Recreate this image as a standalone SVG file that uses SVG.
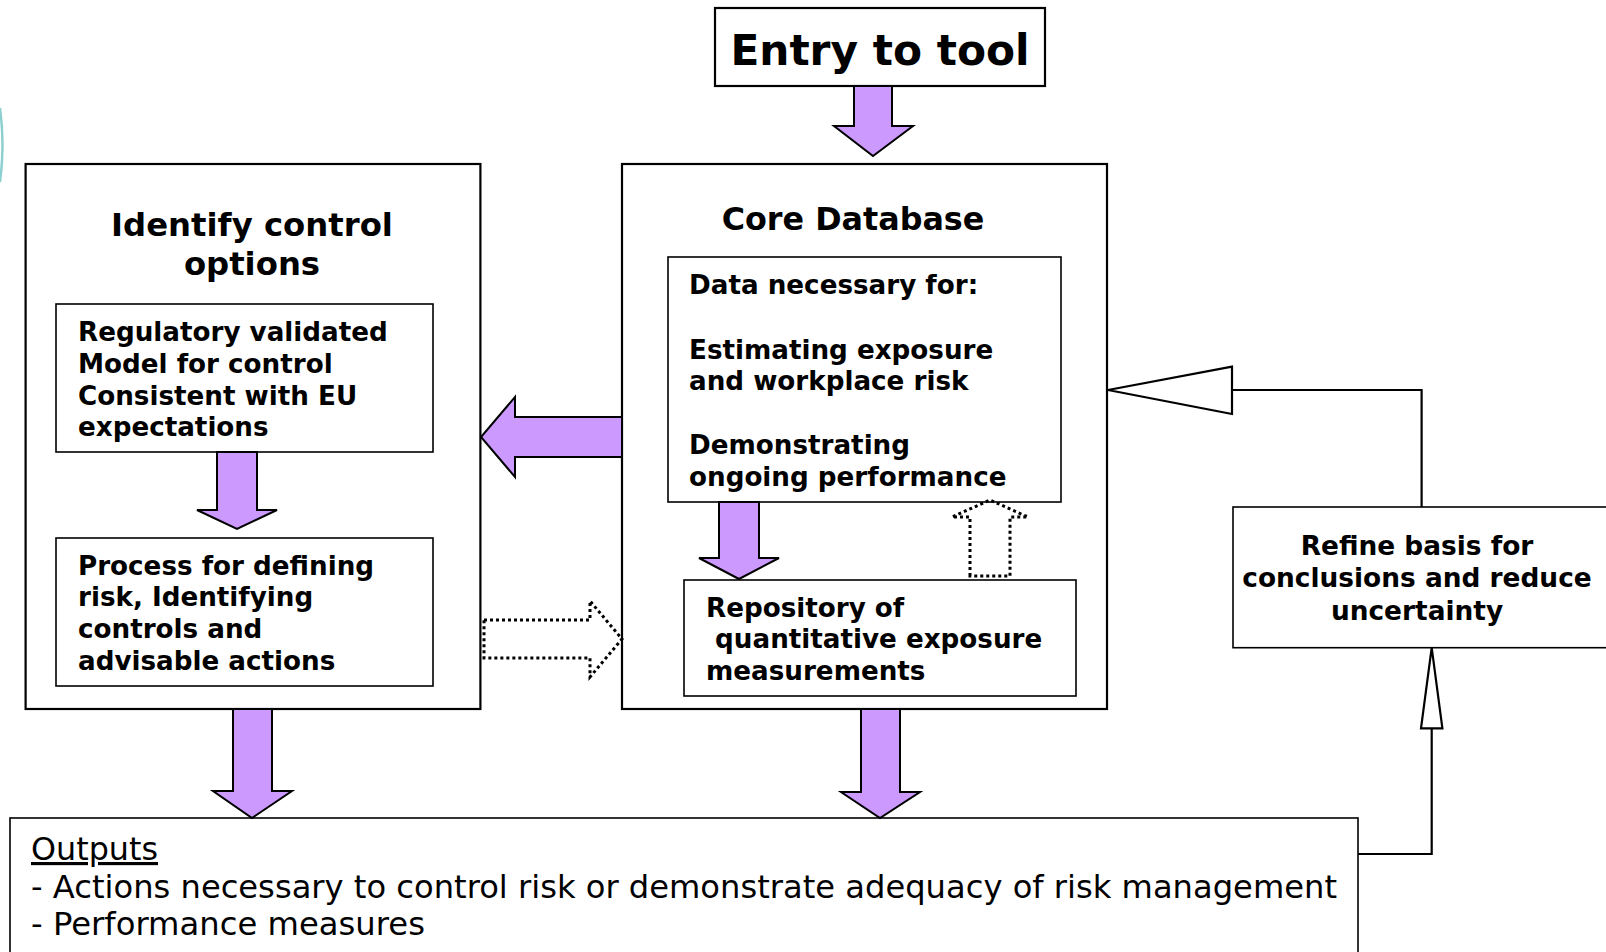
<svg xmlns="http://www.w3.org/2000/svg" width="1606" height="952" viewBox="0 0 1606 952">
<defs>
<style>
.box{fill:#fff;stroke:#000;stroke-width:2.2}
.ibox{fill:#fff;stroke:#000;stroke-width:1.6}
.parrow{fill:#CC99FF;stroke:#000;stroke-width:2;stroke-linejoin:miter}
.darrow{fill:none;stroke:#000;stroke-width:3;stroke-dasharray:3 3}
.line{fill:none;stroke:#000;stroke-width:2.2}
.tri{fill:#fff;stroke:#000;stroke-width:2.2}
.b{font-family:"DejaVu Sans","Verdana",sans-serif;font-weight:bold;fill:#000}
.r{font-family:"DejaVu Sans","Verdana",sans-serif;fill:#000}
</style>
</defs>
<rect width="1606" height="952" fill="#fff"/>
<path d="M0,108 Q5,145 0,182" fill="none" stroke="#8ccfcf" stroke-width="2.5"/>

<g id="entry">
<rect class="box" x="715" y="8" width="330" height="78"/>
<text class="b" x="880" y="64.5" font-size="42.3" text-anchor="middle">Entry to tool</text>
</g>

<g id="identify">
<rect class="box" x="25.6" y="164" width="454.8" height="545"/>
<text class="b" x="252" y="235.5" font-size="32.3" text-anchor="middle">Identify control</text>
<text class="b" x="252" y="274.5" font-size="32.3" text-anchor="middle">options</text>
</g>

<g id="regulatory">
<rect class="ibox" x="56" y="304" width="377" height="148"/>
<text class="b" font-size="26.2"><tspan x="78" y="341">Regulatory validated</tspan><tspan x="78" y="373">Model for control</tspan><tspan x="78" y="404.5">Consistent with EU</tspan><tspan x="78" y="436">expectations</tspan></text>
</g>

<g id="process">
<rect class="ibox" x="56" y="538" width="377" height="148"/>
<text class="b" font-size="26.2"><tspan x="78" y="574.6">Process for defining</tspan><tspan x="78" y="606">risk, Identifying</tspan><tspan x="78" y="638">controls and</tspan><tspan x="78" y="670">advisable actions</tspan></text>
</g>

<g id="core">
<rect class="box" x="622" y="164" width="485" height="545"/>
<text class="b" x="853" y="230" font-size="31.8" text-anchor="middle">Core Database</text>
</g>

<g id="data">
<rect class="ibox" x="668" y="257" width="393" height="245"/>
<text class="b" font-size="26.2"><tspan x="689" y="294">Data necessary for:</tspan><tspan x="689" y="358.5">Estimating exposure</tspan><tspan x="689" y="390">and workplace risk</tspan><tspan x="689" y="454">Demonstrating</tspan><tspan x="689" y="485.5">ongoing performance</tspan></text>
</g>

<g id="repository">
<rect class="ibox" x="684" y="580" width="392" height="116"/>
<text class="b" font-size="26.2"><tspan x="706" y="616.5">Repository of</tspan><tspan x="706" y="648" xml:space="preserve"> quantitative exposure</tspan><tspan x="706" y="680">measurements</tspan></text>
</g>

<g id="refine">
<rect class="ibox" x="1233" y="507" width="390" height="140.7"/>
<text class="b" font-size="26.4" text-anchor="middle"><tspan x="1417" y="555">Refine basis for</tspan><tspan x="1417" y="587">conclusions and reduce</tspan><tspan x="1417" y="619.5">uncertainty</tspan></text>
</g>

<g id="outputs">
<rect class="ibox" x="10" y="818" width="1348" height="150"/>
<text class="r" x="31" y="860" font-size="31.5" text-decoration="underline" textLength="127" lengthAdjust="spacingAndGlyphs">Outputs</text>
<text class="r" x="31" y="898" font-size="31.5" textLength="1306" lengthAdjust="spacingAndGlyphs">- Actions necessary to control risk or demonstrate adequacy of risk management</text>
<text class="r" x="31" y="935" font-size="31.5" textLength="394" lengthAdjust="spacingAndGlyphs">- Performance measures</text>
</g>

<g id="connectors">
<polygon class="parrow" points="854,86 892,86 892,126 913,126 873,156 834,126 854,126"/>
<polygon class="parrow" points="622,417 515,417 515,397 481,437 515,477 515,457 622,457"/>
<polygon class="parrow" points="217,452 257,452 257,510 277,510 237,529 197,510 217,510"/>
<polygon class="parrow" points="719,502 759,502 759,558 779,558 739,579 699,558 719,558"/>
<polygon class="parrow" points="233,709 272,709 272,791 292,791 252,818 213,791 233,791"/>
<polygon class="parrow" points="861,709 900,709 900,792 920,792 880,818 841,792 861,792"/>
<path class="darrow" d="M484,620 L590,620 L590,601 L622,639 L590,677 L590,658 L484,658 Z"/>
<path class="darrow" d="M970,576 L970,517 L952,517 L990,500 L1028,517 L1010,517 L1010,576 Z"/>
<path class="line" d="M1421.6,507 L1421.6,390 L1232,390"/>
<polygon class="tri" points="1232,366.7 1232,414 1108,390"/>
<path class="line" d="M1358,854 L1431.7,854 L1431.7,728.3"/>
<polygon class="tri" points="1421,728.3 1442.4,728.3 1431.7,647.7"/>
</g>
</svg>
